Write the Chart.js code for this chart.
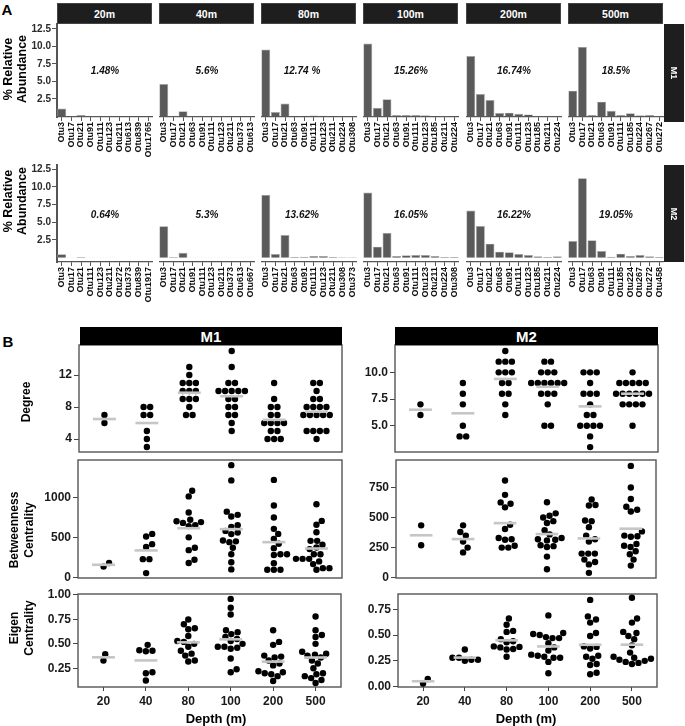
<!DOCTYPE html>
<html><head><meta charset="utf-8">
<script src="https://cdn.jsdelivr.net/npm/chart.js@4.4.1/dist/chart.umd.min.js"></script>
<style>
html,body{margin:0;padding:0;background:#fff;}
body{position:relative;width:685px;height:726px;overflow:hidden;font-family:'Liberation Sans',Arial,Helvetica,sans-serif;color:#000;}
canvas{position:absolute;}
.lbl{position:absolute;white-space:pre;text-align:center;}
.strip{position:absolute;display:flex;align-items:center;justify-content:center;color:#fff;font-weight:bold;box-sizing:border-box;}
</style></head><body>
<script>
// ================= DATA =================
// Panel A: top-10 OTU relative abundance per depth, modules M1 and M2
const depthsA = ['20m','40m','80m','100m','200m','500m'];
const otuM1 = [
  ['Otu3','Otu17','Otu21','Otu91','Otu111','Otu123','Otu211','Otu613','Otu839','Otu1765'],
  ['Otu3','Otu17','Otu21','Otu63','Otu91','Otu111','Otu123','Otu211','Otu373','Otu613'],
  ['Otu3','Otu17','Otu21','Otu63','Otu91','Otu111','Otu123','Otu211','Otu224','Otu308'],
  ['Otu3','Otu17','Otu21','Otu63','Otu91','Otu111','Otu123','Otu185','Otu211','Otu224'],
  ['Otu3','Otu17','Otu21','Otu63','Otu91','Otu111','Otu123','Otu185','Otu211','Otu224'],
  ['Otu3','Otu17','Otu21','Otu63','Otu91','Otu111','Otu185','Otu224','Otu267','Otu272']
];
const abundM1 = [
  [1.15,0.03,0.22,0.02,0.02,0.02,0.01,0.01,0.01,0.01],
  [4.64,0.10,0.74,0.03,0.02,0.02,0.03,0.01,0.01,0.01],
  [9.55,0.65,1.85,0.12,0.12,0.15,0.12,0.05,0.03,0.02],
  [10.40,1.26,2.45,0.20,0.20,0.20,0.18,0.05,0.07,0.05],
  [8.64,3.20,2.36,0.50,0.55,0.40,0.30,0.10,0.10,0.10],
  [3.69,9.93,0.20,2.12,0.83,0.20,0.45,0.17,0.20,0.10]
];
const otuM2 = [
  ['Otu3','Otu17','Otu21','Otu111','Otu123','Otu211','Otu272','Otu373','Otu839','Otu1917'],
  ['Otu3','Otu17','Otu21','Otu91','Otu111','Otu123','Otu211','Otu373','Otu613','Otu667'],
  ['Otu3','Otu17','Otu21','Otu63','Otu91','Otu111','Otu123','Otu211','Otu308','Otu373'],
  ['Otu3','Otu17','Otu21','Otu63','Otu91','Otu111','Otu123','Otu211','Otu224','Otu308'],
  ['Otu3','Otu17','Otu21','Otu63','Otu91','Otu111','Otu123','Otu185','Otu211','Otu224'],
  ['Otu3','Otu17','Otu63','Otu91','Otu111','Otu185','Otu224','Otu267','Otu272','Otu458']
];
const abundM2 = [
  [0.50,0.01,0.08,0.01,0.01,0.01,0.005,0.005,0.005,0.005],
  [4.45,0.08,0.70,0.01,0.01,0.01,0.01,0.01,0.01,0.01],
  [8.87,0.52,3.20,0.10,0.14,0.24,0.24,0.10,0.05,0.05],
  [9.20,1.56,3.50,0.24,0.33,0.38,0.38,0.24,0.10,0.10],
  [6.65,4.48,1.98,0.85,0.75,0.52,0.38,0.19,0.10,0.19],
  [2.36,11.23,2.45,0.94,0.14,0.57,0.24,0.38,0.19,0.10]
];
const pctM1 = ['1.48%','5.6%','12.74 %','15.26%','16.74%','18.5%'];
const pctM2 = ['0.64%','5.3%','13.62%','16.05%','16.22%','19.05%'];
const yTicksA = [2.5,5,7.5,10,12.5];

// Panel B: node-level network metrics per depth
const depthB = ['20','40','80','100','200','500'];
const degreeM1 = [
  [7,6],
  [8,8,7,7,5,4,3],
  [13,12,11,11,11,10,10,10,9,9,9,8,7,7],
  [15,13,11,11,10,10,10,10,10,9,9,8,8,7,7,6,5],
  [11,9,8,8,7,7,6,6,6,6,5,5,4,4,4],
  [11,11,10,9,9,8,8,8,8,7,7,7,7,7,5,5,5,5,4]
];
const degreeM2 = [
  [7,6],
  [9,8,7,5,4,4],
  [12,11,11,11,10,10,10,9,9,8,8,7,6],
  [11,11,10,10,10,9,9,9,9,9,9,8,8,8,7,5,5],
  [10,10,10,9,8,8,8,7,6,6,5,5,5,5,4,3],
  [10,9,9,9,9,9,8,8,8,8,8,8,7,7,7,7,5]
];
const betweenM1 = [
  [180,135],
  [543,510,415,380,228,228,54],
  [1080,1010,810,720,700,690,680,650,640,500,370,340,220,180],
  [1400,1210,820,780,760,650,630,580,560,540,460,450,440,370,290,190,100],
  [1216,896,747,606,543,481,420,365,290,290,280,178,95,95,95],
  [913,705,656,564,456,456,407,373,353,290,290,232,232,232,200,166,116,116,95]
];
const betweenM2 = [
  [435,270],
  [435,380,350,300,250,210],
  [808,689,626,615,585,440,405,330,320,315,265,250,250],
  [628,535,515,500,470,455,395,360,330,320,315,310,270,262,255,175,70],
  [650,605,600,475,470,420,350,320,300,200,200,200,150,130,110,40],
  [930,750,655,590,565,550,385,350,345,340,280,265,255,220,195,150,100]
];
const eigenM1 = [
  [0.395,0.33],
  [0.49,0.435,0.43,0.425,0.21,0.20,0.125],
  [0.75,0.70,0.66,0.65,0.58,0.53,0.52,0.50,0.47,0.43,0.40,0.38,0.33,0.32],
  [0.96,0.87,0.80,0.64,0.62,0.60,0.57,0.55,0.53,0.50,0.47,0.47,0.46,0.45,0.35,0.24,0.21],
  [0.64,0.52,0.49,0.38,0.37,0.36,0.33,0.30,0.28,0.22,0.21,0.20,0.19,0.17,0.12],
  [0.78,0.64,0.59,0.57,0.50,0.42,0.40,0.39,0.38,0.36,0.33,0.30,0.25,0.20,0.19,0.17,0.15,0.13,0.10]
];
const eigenM2 = [
  [0.075,0.03],
  [0.36,0.28,0.26,0.25,0.26,0.28],
  [0.66,0.60,0.54,0.53,0.46,0.44,0.43,0.39,0.385,0.38,0.365,0.36,0.29],
  [0.69,0.52,0.51,0.50,0.48,0.47,0.47,0.42,0.38,0.35,0.31,0.30,0.29,0.28,0.28,0.24,0.13],
  [0.84,0.68,0.65,0.62,0.52,0.49,0.39,0.385,0.37,0.30,0.29,0.27,0.22,0.21,0.135,0.12],
  [0.86,0.66,0.62,0.53,0.52,0.49,0.46,0.40,0.33,0.29,0.28,0.27,0.26,0.25,0.24,0.23,0.22]
];
const ticksDegM1 = [4,8,12];
const ticksDegM2 = [5,7.5,10];
const ticksBetM1 = [0,500,1000];
const ticksBetM2 = [0,250,500,750];
const ticksEigM1 = [0.25,0.5,0.75,1];
const ticksEigM2 = [0,0.25,0.5,0.75];

// ================= SETUP =================
const FAM = "'Liberation Sans', Arial, Helvetica, sans-serif";
Chart.defaults.font.family = FAM;
Chart.defaults.color = '#222';

const xLabFont = {family:FAM, weight:'bold', size:9};

const boxPlugin = {
  id: 'panelBox',
  beforeDatasetsDraw(chart, args, opts) {
    if (!opts || !opts.show) return;
    const a = chart.chartArea, ctx = chart.ctx;
    ctx.save();
    ctx.strokeStyle = opts.color || '#666';
    ctx.lineWidth = opts.width || 1.3;
    ctx.strokeRect(a.left, a.top, a.right - a.left, a.bottom - a.top);
    ctx.restore();
  }
};
Chart.register(boxPlugin);

function mkCanvas(l, t, w, h) {
  const c = document.createElement('canvas');
  c.width = w; c.height = h;
  c.style.left = l + 'px'; c.style.top = t + 'px';
  c.style.width = w + 'px'; c.style.height = h + 'px';
  document.body.appendChild(c);
  return c;
}
function label(text, x, y, css, rot) {
  const d = document.createElement('div');
  d.className = 'lbl';
  d.textContent = text;
  d.style.left = x + 'px'; d.style.top = y + 'px';
  d.style.transform = 'translate(-50%,-50%)' + (rot ? ' rotate(' + rot + 'deg)' : '');
  Object.assign(d.style, css);
  document.body.appendChild(d);
}
function strip(text, l, t, w, h, css, rot) {
  const d = document.createElement('div');
  d.className = 'strip';
  d.style.left = l + 'px'; d.style.top = t + 'px';
  d.style.width = w + 'px'; d.style.height = h + 'px';
  Object.assign(d.style, css);
  const s = document.createElement('span');
  s.textContent = text;
  if (rot) { s.style.display = 'inline-block'; s.style.transform = 'rotate(' + rot + 'deg)'; }
  d.appendChild(s);
  document.body.appendChild(d);
}

// ================= PANEL A =================
const A_LEFT = [57,159,261,363,466,568];
const A_W = 96;
const A_ROWS = [
  {top:24, bottom:117, xH:40, yMin:-0.07, yMax:13.2},
  {top:165, bottom:262, xH:48, yMin:-0.61, yMax:13.09}
];

function barPanel(row, col, labels, values) {
  const R = A_ROWS[row];
  const yW = col === 0 ? 37 : 0;
  const areaL = A_LEFT[col];
  const cl = areaL - yW, ct = R.top - 4;
  const w = areaL + A_W - cl, h = R.bottom + R.xH - ct;
  const cv = mkCanvas(cl, ct, w, h);
  return new Chart(cv, {
    type: 'bar',
    data: { labels: labels, datasets: [{
      data: values, backgroundColor: '#5a5a5a', borderColor: '#a6a6a6', borderWidth: 0.7,
      categoryPercentage: 1, barPercentage: 0.93
    }]},
    options: {
      responsive: false, animation: false, events: [],
      layout: { padding: { top: 4, left: 0, right: 0, bottom: 0 } },
      plugins: { legend: {display:false}, tooltip: {enabled:false} },
      scales: {
        x: {
          type: 'category', offset: true,
          grid: { display: true, offset: false, drawOnChartArea: false, drawTicks: true, tickLength: 4, color: '#555', lineWidth: 1 },
          border: { display: true, color: '#555', width: 1.2 },
          ticks: { autoSkip: false, minRotation: 90, maxRotation: 90, padding: 1, color: '#0d0d0d', font: xLabFont },
          afterFit: s => { s.height = R.xH; s.paddingLeft = 0; s.paddingRight = 0; }
        },
        y: {
          display: col === 0, min: R.yMin, max: R.yMax,
          afterBuildTicks: s => { s.ticks = yTicksA.map(v => ({value: v})); },
          grid: { drawOnChartArea: false, drawTicks: true, tickLength: 5, color: '#555' },
          border: { display: true, color: '#555', width: 2 },
          ticks: { padding: 1, color: '#2a2a2a', font: {weight:'bold', size:10}, callback: v => Number(v).toFixed(1) },
          afterFit: s => { s.width = yW; s.paddingTop = 0; s.paddingBottom = 0; }
        }
      }
    }
  });
}

for (let c = 0; c < 6; c++) {
  barPanel(0, c, otuM1[c], abundM1[c]);
  barPanel(1, c, otuM2[c], abundM2[c]);
}

// ================= PANEL B =================
const DOT_R = 3.2, DOT_D = 6.6, MEAN_HALF = 0.27;

function swarm(chart, dsIndex, groups) {
  const xs = chart.scales.x, ys = chart.scales.y;
  const pxPerX = xs.getPixelForValue(1) - xs.getPixelForValue(0);
  const d = DOT_D;
  const out = [];
  groups.forEach((vals, ci) => {
    const placed = [];
    const sorted = vals.slice().sort((a, b) => a - b);
    const grps = [];
    sorted.forEach(v => {
      const last = grps[grps.length - 1];
      if (last && last.v === v) last.n++; else grps.push({v: v, n: 1});
    });
    grps.forEach(g => {
      const py = ys.getPixelForValue(g.v);
      const base = [];
      for (let j = 0; j < g.n; j++) base.push((j - (g.n - 1) / 2) * d);
      const cands = [0];
      placed.forEach(p => {
        const dy = Math.abs(p.y - py);
        if (dy < d) {
          const dx = Math.sqrt(d * d - dy * dy);
          base.forEach(b => { cands.push(p.x - b + dx, p.x - b - dx); });
        }
      });
      cands.sort((a, b) => (Math.abs(a) - Math.abs(b)) || (b - a));
      let s = 0;
      for (const c of cands) {
        const ok = base.every(b => placed.every(p => Math.hypot(p.x - (b + c), p.y - py) >= d - 1e-6));
        if (ok) { s = c; break; }
      }
      base.forEach(b => {
        placed.push({x: b + s, y: py});
        out.push({x: ci + (b + s) / pxPerX, y: g.v});
      });
    });
  });
  chart.data.datasets[dsIndex].data = out;
  chart.update('none');
}

function dotPanel(cfg) {
  const yW = 40, padT = 6, padR = 4;
  const xH = cfg.showX ? 22 : 0, padB = cfg.showX ? 0 : 4;
  const A = cfg.area;
  const cl = A.l - yW, ct = A.t - padT;
  const w = A.r + padR - cl, h = A.b + xH + padB - ct;
  const cv = mkCanvas(cl, ct, w, h);
  const means = cfg.groups.map(g => g.reduce((a, b) => a + b, 0) / g.length);
  const meanSets = means.map((m, i) => ({
    type: 'scatter', showLine: true,
    data: [{x: i - MEAN_HALF, y: m}, {x: i + MEAN_HALF, y: m}],
    borderColor: '#c6c6c6', borderWidth: 2.6, pointRadius: 0, clip: false
  }));
  const dots = {
    type: 'scatter',
    data: cfg.groups.flatMap((g, i) => g.map(v => ({x: i, y: v}))),
    backgroundColor: '#000', borderColor: '#000', borderWidth: 0,
    pointRadius: DOT_R, clip: false
  };
  const chart = new Chart(cv, {
    type: 'scatter',
    data: { datasets: meanSets.concat([dots]) },
    options: {
      responsive: false, animation: false, events: [],
      layout: { padding: { top: padT, right: padR, bottom: padB, left: 0 } },
      plugins: { legend: {display:false}, tooltip: {enabled:false},
                 panelBox: { show: true, color: '#555', width: 1.4 } },
      scales: {
        x: {
          type: 'linear', display: cfg.showX, min: -0.6, max: 5.6,
          afterBuildTicks: s => { s.ticks = depthB.map((d, i) => ({value: i})); },
          ticks: { callback: (v, i) => depthB[i], font: {weight:'bold', size:12}, color: '#1a1a1a', padding: 3, maxRotation: 0, minRotation: 0, autoSkip: false },
          grid: { drawOnChartArea: false, drawTicks: true, tickLength: 4, color: '#444' },
          border: { display: false },
          afterFit: s => { s.height = xH; s.paddingLeft = 0; s.paddingRight = 0; }
        },
        y: {
          type: 'linear', min: cfg.yMin, max: cfg.yMax,
          afterBuildTicks: s => { s.ticks = cfg.ticks.map(v => ({value: v})); },
          ticks: { callback: v => Number(v).toFixed(cfg.dec), font: {weight:'bold', size:12}, color: '#1a1a1a', padding: 2 },
          grid: { drawOnChartArea: false, drawTicks: true, tickLength: 5, color: '#444' },
          border: { display: false },
          afterFit: s => { s.width = yW; s.paddingTop = 0; s.paddingBottom = 0; }
        }
      }
    }
  });
  swarm(chart, meanSets.length, cfg.groups);
  return chart;
}

dotPanel({area:{l:79,r:342,t:345,b:452}, yMin:2.38, yMax:15.75, ticks:ticksDegM1, dec:0, groups:degreeM1, showX:false});
dotPanel({area:{l:78,r:342,t:460,b:578}, yMin:-7, yMax:1464, ticks:ticksBetM1, dec:0, groups:betweenM1, showX:false});
dotPanel({area:{l:78,r:341,t:594,b:687}, yMin:0.059, yMax:1.01, ticks:ticksEigM1, dec:2, groups:eigenM1, showX:true});
dotPanel({area:{l:395,r:658,t:345,b:452}, yMin:2.54, yMax:12.56, ticks:ticksDegM2, dec:1, groups:degreeM2, showX:false});
dotPanel({area:{l:396,r:656,t:460,b:578}, yMin:-3, yMax:979, ticks:ticksBetM2, dec:0, groups:betweenM2, showX:false});
dotPanel({area:{l:398,r:657,t:594,b:687}, yMin:-0.003, yMax:0.897, ticks:ticksEigM2, dec:2, groups:eigenM2, showX:true});

// ================= TEXT / STRIPS =================
label('A', 7, 9, {fontWeight:'bold', fontSize:'15px'});
label('B', 8, 341, {fontWeight:'bold', fontSize:'15px'});

for (let c = 0; c < 6; c++) {
  strip(depthsA[c], A_LEFT[c], 3, 95, 21, {background:'#1e1e1e', fontSize:'10.5px', border:'1px solid #444'});
  const cx = A_LEFT[c] + 48 + (c === 2 ? -7 : 0);
  label(pctM1[c], cx, 70, {fontWeight:'bold', fontStyle:'italic', fontSize:'10px', color:'#111'});
  label(pctM2[c], cx, 214, {fontWeight:'bold', fontStyle:'italic', fontSize:'10px', color:'#111'});
}
strip('M1', 664, 24, 20, 98, {background:'#1e1e1e', fontSize:'9px'}, 90);
strip('M2', 664, 165, 20, 97, {background:'#1e1e1e', fontSize:'9px'}, 90);

label('% Relative\nAbundance', 15, 69, {fontWeight:'bold', fontSize:'12.5px', lineHeight:'14px'}, -90);
label('% Relative\nAbundance', 15, 201, {fontWeight:'bold', fontSize:'12.5px', lineHeight:'14px'}, -90);

strip('M1', 80, 327, 262, 18, {background:'#000', fontSize:'15px'});
strip('M2', 395, 327, 263, 18, {background:'#000', fontSize:'15px'});

label('Degree', 26, 402, {fontWeight:'bold', fontSize:'12px'}, -90);
label('Betweenness\nCentrality', 21.5, 530, {fontWeight:'bold', fontSize:'12px', lineHeight:'15px'}, -90);
label('Eigen\nCentrality', 21.5, 628, {fontWeight:'bold', fontSize:'12px', lineHeight:'15px'}, -90);
label('Depth (m)', 216, 718, {fontWeight:'bold', fontSize:'13px'});
label('Depth (m)', 526, 718, {fontWeight:'bold', fontSize:'13px'});
</script>
</body></html>
